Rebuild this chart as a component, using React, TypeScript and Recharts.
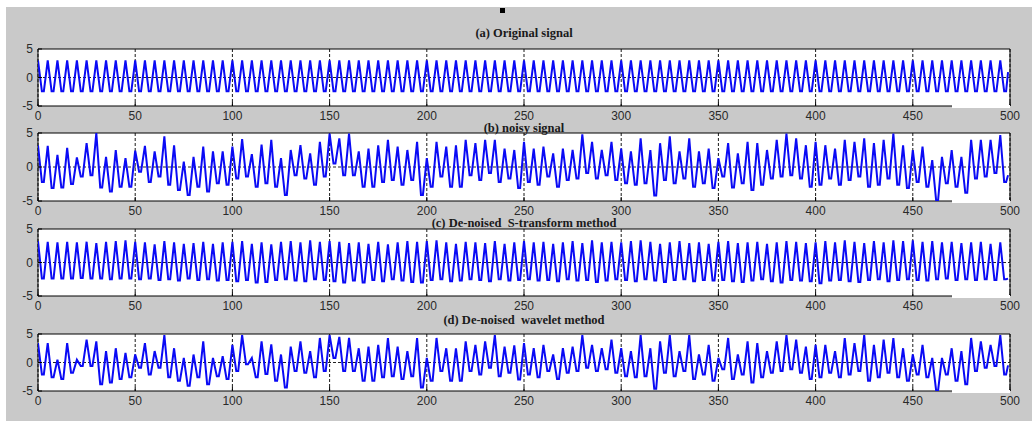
import React from "react";
import { LineChart, Line, XAxis, YAxis, CartesianGrid, ReferenceLine, ReferenceArea } from "recharts";

const xTicks = [0, 50, 100, 150, 200, 250, 300, 350, 400, 450, 500];
const yTicks = [-5, 0, 5];
const titles = [
  "(a) Original signal",
  "(b) noisy signal",
  "(c) De-noised  S-transform method",
  "(d) De-noised  wavelet method",
];

// (a) original signal: value at each cycle's peak and trough
const peaksA = [
  3, 3, 3, 3, 3, 3, 3, 3, 3, 3,
  3, 3, 3, 3, 3, 3, 3, 3, 3, 3,
  3, 3, 3, 3, 3, 3, 3, 3, 3, 3,
  3, 3, 3, 3, 3, 3, 3, 3, 3, 3,
  3, 3, 3, 3, 3, 3, 3, 3, 3, 3,
  3, 3, 3, 3, 3, 3, 3, 3, 3, 3,
  3, 3, 3, 3, 3, 3, 3, 3, 3, 3,
  3, 3, 3, 3, 3, 3, 3, 3, 3, 3,
  3, 3, 3, 3, 3, 3, 3, 3, 3, 3,
  3, 3, 3, 3, 3, 3, 3, 3, 3, 3,
];
const troughsA = [
  -2.43, -2.43, -2.43, -2.43, -2.43, -2.43, -2.43, -2.43, -2.43, -2.43,
  -2.43, -2.43, -2.43, -2.43, -2.43, -2.43, -2.43, -2.43, -2.43, -2.43,
  -2.43, -2.43, -2.43, -2.43, -2.43, -2.43, -2.43, -2.43, -2.43, -2.43,
  -2.43, -2.43, -2.43, -2.43, -2.43, -2.43, -2.43, -2.43, -2.43, -2.43,
  -2.43, -2.43, -2.43, -2.43, -2.43, -2.43, -2.43, -2.43, -2.43, -2.43,
  -2.43, -2.43, -2.43, -2.43, -2.43, -2.43, -2.43, -2.43, -2.43, -2.43,
  -2.43, -2.43, -2.43, -2.43, -2.43, -2.43, -2.43, -2.43, -2.43, -2.43,
  -2.43, -2.43, -2.43, -2.43, -2.43, -2.43, -2.43, -2.43, -2.43, -2.43,
  -2.43, -2.43, -2.43, -2.43, -2.43, -2.43, -2.43, -2.43, -2.43, -2.43,
  -2.43, -2.43, -2.43, -2.43, -2.43, -2.43, -2.43, -2.43, -2.43, -2.43,
];
const endA = 0.93;

// (b) noisy signal
const peaksB = [
  3.2, 3.1, 1.8, 2.8, 1.4, 3.5, 5.0, 1.5, 2.5, 1.3,
  2.4, 3.1, 2.3, 4.5, 3.2, 0.8, 1.5, 3.0, 2.3, 2.3,
  3.0, 4.1, 1.9, 3.3, 4.0, 1.3, 2.5, 3.2, 2.0, 3.7,
  4.9, 4.2, 4.9, 2.3, 2.7, 3.2, 4.0, 3.0, 2.5, 3.7,
  1.3, 3.7, 3.0, 3.2, 4.0, 3.5, 4.0, 4.0, 2.7, 2.5,
  3.7, 2.7, 3.0, 2.0, 2.7, 2.5, 4.8, 3.7, 2.5, 3.7,
  2.7, 2.3, 4.2, 2.5, 3.5, 4.5, 2.3, 4.2, 2.3, 2.7,
  1.3, 3.5, 2.0, 3.7, 3.5, 2.5, 4.0, 4.9, 4.2, 3.2,
  3.7, 3.2, 2.7, 4.0, 3.7, 4.2, 3.5, 4.0, 4.9, 3.2,
  2.5, 3.0, 1.0, 1.5, 2.5, 1.5, 4.0, 4.0, 4.0, 4.7,
];
const troughsB = [
  -2.2, -3.1, -3.0, -2.5, -1.4, -1.2, -3.0, -3.6, -2.9, -2.9,
  -0.7, -2.2, -1.4, -2.6, -3.4, -4.1, -2.9, -3.6, -2.4, -2.6,
  -1.7, -1.4, -2.9, -2.4, -2.9, -4.1, -1.2, -1.7, -2.6, -1.4,
  0.5, -1.2, -1.2, -2.9, -2.9, -2.2, -1.9, -2.6, -1.9, -4.1,
  -2.9, -1.4, -2.9, -2.9, -1.2, -1.9, -0.9, -2.2, -1.7, -3.1,
  -2.2, -2.6, -1.4, -2.9, -1.9, -1.7, -0.9, -1.7, -1.2, -1.9,
  -2.4, -2.6, -2.4, -4.2, -1.9, -2.4, -1.7, -2.9, -2.4, -3.1,
  -1.4, -3.0, -2.4, -3.4, -2.6, -1.7, -1.4, -1.2, -1.7, -2.9,
  -2.6, -1.7, -2.6, -1.9, -1.4, -2.9, -2.6, -1.7, -2.6, -3.1,
  -2.2, -2.9, -4.9, -2.4, -2.9, -3.8, -1.7, -1.4, -0.9, -2.2,
];
const endB = -1.2;

// (c) de-noised, S-transform method
const peaksC = [
  3.2, 3.1, 3.0, 3.1, 3.0, 3.1, 2.9, 3.1, 3.2, 3.3,
  3.1, 3.0, 2.7, 3.2, 3.0, 2.8, 2.9, 3.1, 2.8, 3.0,
  3.1, 3.2, 2.8, 3.0, 2.7, 3.1, 3.2, 3.0, 3.3, 3.1,
  3.2, 3.1, 2.9, 3.0, 2.8, 3.1, 2.7, 3.0, 3.2, 3.1,
  3.2, 3.3, 3.0, 2.8, 3.1, 3.0, 2.9, 3.2, 2.8, 3.0,
  3.2, 3.0, 3.1, 2.8, 3.0, 3.2, 2.9, 3.3, 3.0, 3.1,
  3.0, 3.2, 3.3, 3.1, 2.8, 3.0, 3.2, 2.9, 3.0, 2.8,
  3.1, 3.2, 2.9, 3.0, 3.1, 2.8, 3.0, 3.2, 3.1, 2.9,
  3.0, 3.2, 3.0, 3.3, 3.1, 2.9, 3.2, 3.0, 3.3, 3.2,
  3.3, 3.1, 3.2, 3.0, 3.1, 2.9, 3.0, 3.1, 2.8, 3.0,
];
const troughsC = [
  -2.4, -2.4, -2.4, -2.4, -2.3, -2.4, -2.4, -2.5, -2.4, -2.4,
  -2.5, -2.4, -2.6, -2.5, -2.7, -2.4, -2.6, -2.5, -2.7, -2.6,
  -2.8, -2.6, -3.0, -2.9, -2.6, -2.5, -2.7, -2.8, -2.5, -2.6,
  -2.8, -3.0, -2.7, -3.0, -2.6, -2.8, -2.5, -2.7, -2.9, -3.0,
  -2.6, -2.5, -2.8, -2.7, -2.5, -2.6, -2.8, -2.5, -2.7, -2.6,
  -2.5, -2.7, -2.6, -2.8, -2.5, -2.7, -2.6, -2.9, -2.7, -2.5,
  -2.6, -2.8, -2.5, -2.7, -2.9, -2.6, -2.5, -2.8, -2.6, -2.7,
  -2.6, -2.8, -2.9, -2.7, -2.5, -2.8, -3.0, -2.6, -2.7, -2.8,
  -3.1, -2.7, -2.6, -2.8, -2.9, -2.6, -2.5, -2.8, -2.6, -2.5,
  -2.6, -2.7, -2.5, -2.4, -2.6, -2.5, -2.6, -2.5, -2.6, -2.5,
];
const endC = -2.4;

// (d) de-noised, wavelet method
const peaksD = [
  3.4, 3.4, 0.5, 3.4, 0.5, 4.0, 3.7, 2.0, 2.5, 1.7,
  1.4, 3.4, 2.0, 4.8, 2.5, 0.8, 1.4, 3.7, 0.8, 1.1,
  3.1, 4.8, 0.8, 3.7, 3.2, 1.4, 2.8, 3.7, 2.0, 4.3,
  4.8, 4.5, 4.3, 2.5, 2.8, 3.1, 4.3, 2.8, 2.0, 4.3,
  0.8, 4.3, 2.5, 2.5, 3.7, 3.1, 3.7, 4.8, 2.8, 3.0,
  3.4, 2.5, 3.1, 1.4, 2.5, 2.8, 4.8, 3.1, 2.5, 4.0,
  2.5, 2.0, 4.8, 2.5, 3.7, 4.8, 2.0, 4.8, 1.4, 3.1,
  0.8, 4.3, 1.4, 3.7, 3.4, 2.0, 3.7, 4.8, 4.0, 2.8,
  3.1, 3.1, 2.0, 4.3, 3.4, 4.8, 3.1, 4.0, 4.3, 2.5,
  1.4, 3.1, 0.8, 0.8, 2.5, 2.0, 4.3, 3.7, 3.1, 4.8,
];
const troughsD = [
  -2.1, -2.6, -2.9, -1.8, -0.6, -0.6, -3.8, -3.5, -2.9, -2.6,
  -0.9, -2.1, -0.9, -2.6, -3.2, -4.1, -2.6, -3.8, -2.4, -2.9,
  -1.5, -0.3, -2.6, -2.0, -3.2, -4.4, -1.5, -1.8, -2.6, -1.5,
  0.8, -1.5, -1.5, -3.2, -3.2, -2.6, -2.4, -2.9, -2.4, -4.4,
  -3.2, -1.5, -3.2, -3.2, -1.5, -2.1, -0.9, -2.4, -1.8, -3.0,
  -2.1, -2.6, -1.5, -2.9, -1.8, -1.5, -0.9, -1.5, -1.2, -1.8,
  -2.4, -2.6, -2.4, -4.6, -1.8, -2.4, -1.5, -2.9, -2.1, -3.2,
  -1.2, -2.9, -2.1, -3.5, -2.6, -1.8, -1.5, -1.2, -1.8, -2.9,
  -2.6, -1.8, -2.6, -2.1, -1.5, -3.2, -2.6, -1.8, -2.6, -3.2,
  -2.1, -2.6, -4.9, -2.1, -3.2, -3.8, -1.5, -0.9, -0.6, -2.1,
];
const endD = -0.5;

type Pt = { x: number; y: number };

function buildSeries(peaks: number[], troughs: number[], end: number): Pt[] {
  const pts: Pt[] = [];
  peaks.forEach((p, i) => {
    pts.push({ x: i * 5, y: p });
    pts.push({ x: i * 5 + 2, y: troughs[i] });
    pts.push({ x: i * 5 + 3, y: troughs[i] });
  });
  pts.push({ x: 499, y: end });
  return pts;
}

const panels = [
  { top: 49, h: 57, titleY: 37, data: buildSeries(peaksA, troughsA, endA) },
  { top: 133, h: 68, titleY: 132, data: buildSeries(peaksB, troughsB, endB) },
  { top: 229, h: 67, titleY: 227, data: buildSeries(peaksC, troughsC, endC) },
  { top: 334, h: 57, titleY: 324, data: buildSeries(peaksD, troughsD, endD) },
];

const tickStyle = { fontSize: 12, fill: "#2a2a2a", fontFamily: "'Liberation Sans', Arial, sans-serif" };

function Panel({ top, h, data }: { top: number; h: number; data: Pt[] }) {
  return (
    <div style={{ position: "absolute", left: 0, top: top - 10 }}>
      <LineChart width={1032} height={h + 30} data={data} margin={{ top: 10, right: 22, bottom: 0, left: 0 }}>
        <CartesianGrid horizontal={false} stroke="#1a1a1a" strokeDasharray="3 2" fill="#ffffff" fillOpacity={1} />
        <XAxis
          dataKey="x"
          type="number"
          domain={[0, 500]}
          ticks={xTicks}
          interval={0}
          height={20}
          tickSize={-4}
          tickMargin={9}
          axisLine={false}
          tickLine={{ stroke: "#000" }}
          tick={tickStyle}
          allowDataOverflow
        />
        <YAxis
          type="number"
          domain={[-5, 5]}
          ticks={yTicks}
          interval={0}
          width={38}
          tickSize={-4}
          tickMargin={9}
          axisLine={false}
          tickLine={{ stroke: "#000" }}
          tick={tickStyle}
          allowDataOverflow
        />
        <ReferenceLine y={0} stroke="#222" strokeDasharray="3 2" />
        <Line type="linear" dataKey="y" stroke="#0a0af5" strokeWidth={2} dot={false} isAnimationActive={false} />
        <ReferenceArea x1={0} x2={500} y1={-5} y2={5} fill="none" fillOpacity={0} stroke="#000" strokeWidth={1} />
      </LineChart>
    </div>
  );
}

export default function App() {
  return (
    <div style={{ position: "absolute", left: 0, top: 0, width: 1032, height: 421, background: "#ffffff", overflow: "hidden" }}>
      <div style={{ position: "absolute", left: 6, top: 7, width: 1026, height: 414, background: "#c9c9c9" }} />
      {panels.map((p, i) => (
        <Panel key={i} top={p.top} h={p.h} data={p.data} />
      ))}
      <svg width={1032} height={421} style={{ position: "absolute", left: 0, top: 0, pointerEvents: "none" }}>
        <rect x={500} y={8} width={5} height={5} fill="#000" />
        {panels.map((p, i) => (
          <rect key={"w" + i} x={952} y={p.top + p.h - 1} width={58} height={3} fill="#ffffff" />
        ))}
        {panels.map((p, i) => (
          <text
            key={"t" + i}
            x={524}
            y={p.titleY}
            textAnchor="middle"
            fontFamily="'Liberation Serif', 'Times New Roman', serif"
            fontWeight="bold"
            fontSize={12.5}
            fill="#1a1a1a"
            style={{ whiteSpace: "pre" }}
          >
            {titles[i]}
          </text>
        ))}
      </svg>
    </div>
  );
}
